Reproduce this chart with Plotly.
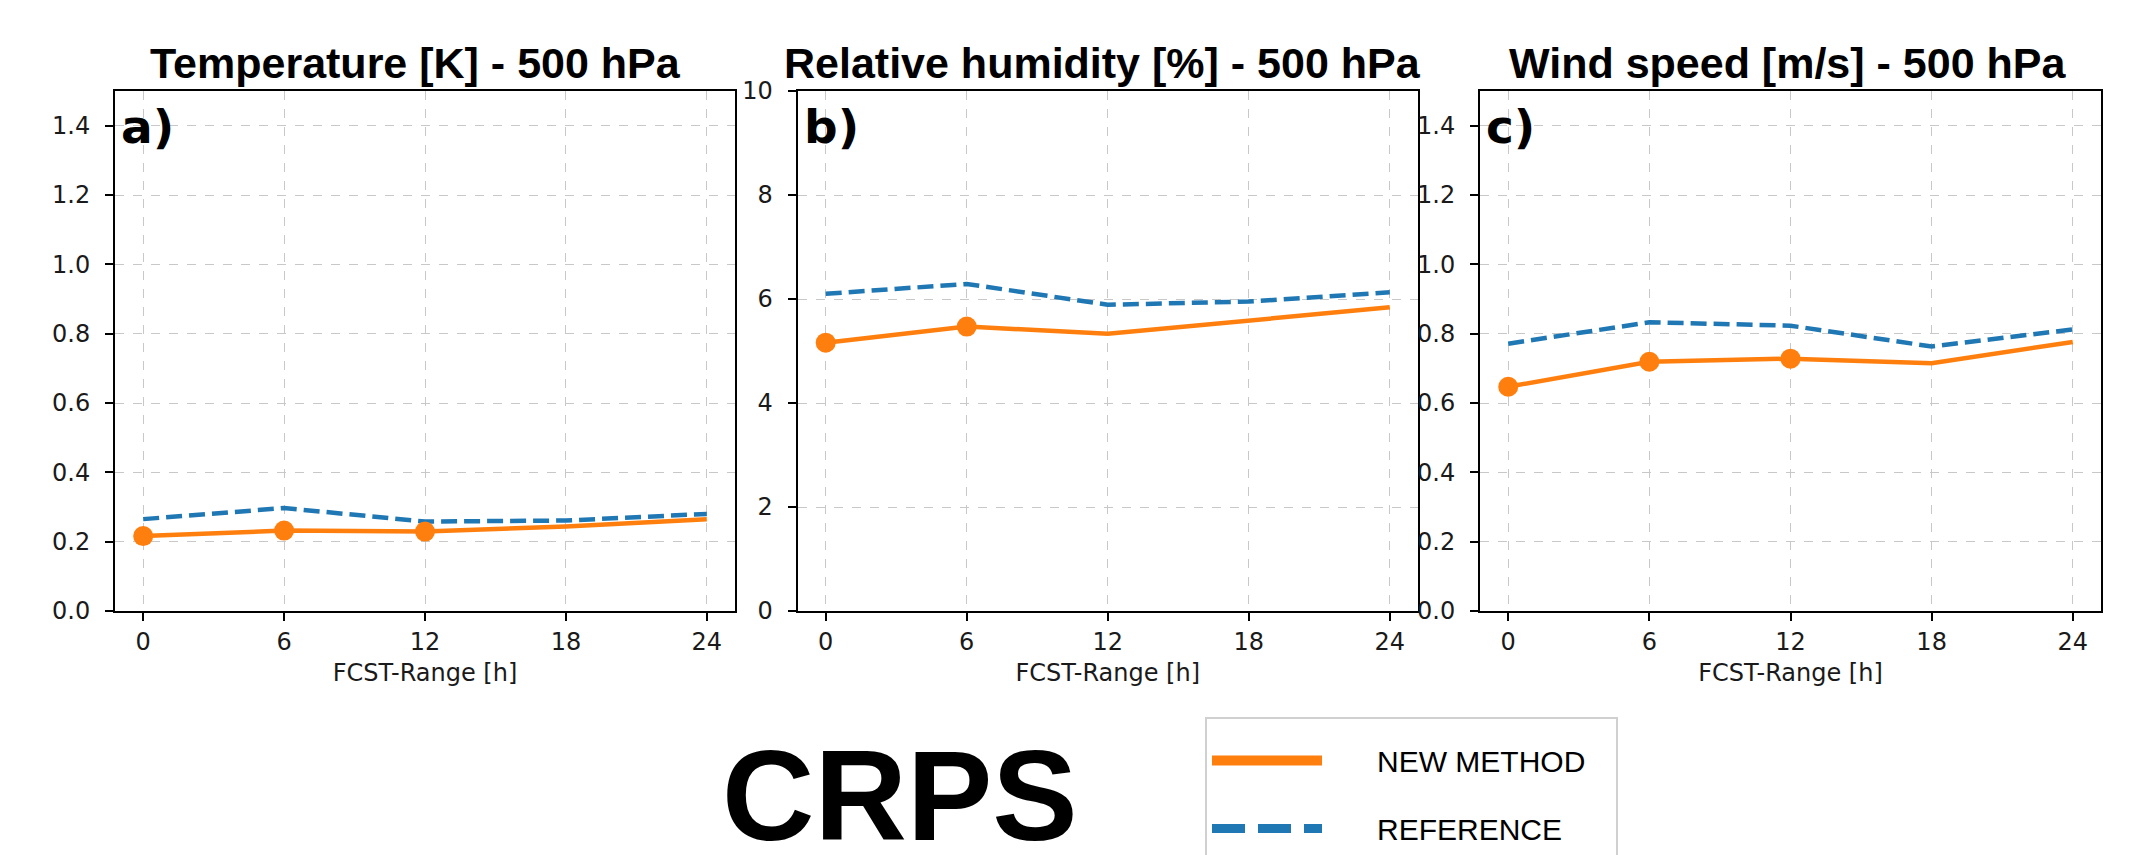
import plotly.graph_objects as go

# ---------------- data ----------------
hours = [0, 6, 12, 18, 24]
x_ticks = [0, 6, 12, 18, 24]

temp_new = [0.216, 0.232, 0.229, 0.244, 0.265]
temp_ref = [0.265, 0.297, 0.258, 0.261, 0.280]
temp_sig = [True, True, True, False, False]

rh_new = [5.16, 5.47, 5.33, 5.59, 5.84]
rh_ref = [6.10, 6.29, 5.89, 5.95, 6.13]
rh_sig = [True, True, False, False, False]

ws_new = [0.647, 0.719, 0.728, 0.715, 0.776]
ws_ref = [0.771, 0.833, 0.823, 0.763, 0.812]
ws_sig = [True, True, True, False, False]

titles = ["Temperature [K] - 500 hPa", "Relative humidity [%] - 500 hPa", "Wind speed [m/s] - 500 hPa"]
panel_labels = ["a)", "b)", "c)"]
y_ranges = [[0, 1.5], [0, 10], [0, 1.5]]
y_tickvals = [[0, 0.2, 0.4, 0.6, 0.8, 1.0, 1.2, 1.4], [0, 2, 4, 6, 8, 10], [0, 0.2, 0.4, 0.6, 0.8, 1.0, 1.2, 1.4]]
y_tickformat = [".1f", "d", ".1f"]
legend_names = ["NEW METHOD", "REFERENCE"]

ORANGE = "#ff7f0e"
BLUE = "#1f77b4"

W, H = 2144, 855
ML, MR, MT, MB = 115, 43, 91, 244
PW = W - ML - MR
PH = H - MT - MB

def px_x(p):
    return (p - ML) / PW

def px_y(p):
    return (H - MB - p) / PH

domains = [[px_x(115), px_x(735)], [px_x(797.5), px_x(1418)], [px_x(1480), px_x(2101)]]
title_shift = [-10, -5, -3]

fig = go.Figure()

series = [(temp_new, temp_ref, temp_sig), (rh_new, rh_ref, rh_sig), (ws_new, ws_ref, ws_sig)]
for i, (new, ref, sig) in enumerate(series):
    xa = "x" if i == 0 else f"x{i+1}"
    ya = "y" if i == 0 else f"y{i+1}"
    fig.add_trace(go.Scatter(x=hours, y=ref, mode="lines", xaxis=xa, yaxis=ya,
                             line=dict(color=BLUE, width=4.5, dash="16px,7px"),
                             showlegend=False, hoverinfo="skip"))
    fig.add_trace(go.Scatter(x=hours, y=new, mode="lines", xaxis=xa, yaxis=ya,
                             line=dict(color=ORANGE, width=4.5),
                             showlegend=False, hoverinfo="skip"))
    fig.add_trace(go.Scatter(x=[h for h, s in zip(hours, sig) if s],
                             y=[v for v, s in zip(new, sig) if s],
                             mode="markers", xaxis=xa, yaxis=ya,
                             marker=dict(color=ORANGE, size=20),
                             showlegend=False, hoverinfo="skip"))

NB = "\u00a0"
# legend-only entries
fig.add_trace(go.Scatter(x=[None], y=[None], mode="lines", name=NB * 6 + legend_names[0] + NB * 3,
                         line=dict(color=ORANGE, width=10), legendgroup="g1"))
fig.add_trace(go.Scatter(x=[None], y=[None], mode="lines", name=NB * 6 + legend_names[1],
                         line=dict(color=BLUE, width=9, dash="33px,13px"), legendgroup="g2"))

tick_font = dict(family="DejaVu Sans", size=24, color="#1a1a1a")
for i in range(3):
    sfx = "" if i == 0 else str(i + 1)
    fig.layout["xaxis" + sfx] = dict(
        domain=domains[i], anchor="y" + sfx, range=[-1.2, 25.2],
        tickvals=x_ticks, ticktext=[str(v) for v in x_ticks],
        showline=True, linecolor="black", linewidth=2, mirror=True,
        ticks="outside", ticklen=8, tickwidth=1.5, tickcolor="black",
        showgrid=True, gridcolor="#c8c8c8", gridwidth=1.2, griddash="dash",
        zeroline=False, tickfont=tick_font,
        title=dict(text="FCST-Range [h]", font=dict(family="DejaVu Sans", size=24, color="#1a1a1a"), standoff=9),
    )
    fig.layout["yaxis" + sfx] = dict(
        domain=[0, 1], anchor="x" + sfx, range=y_ranges[i],
        tickvals=y_tickvals[i], tickformat=y_tickformat[i],
        showline=True, linecolor="black", linewidth=2, mirror=True,
        ticks="outside", ticklen=8, tickwidth=1.5, tickcolor="black",
        ticklabelstandoff=10,
        showgrid=True, gridcolor="#c8c8c8", gridwidth=1.2, griddash="dash",
        zeroline=False, tickfont=tick_font,
    )

annotations = []
for i in range(3):
    cx = (domains[i][0] + domains[i][1]) / 2 + title_shift[i] / PW
    annotations.append(dict(text=titles[i], x=cx, y=px_y(63), xref="paper", yref="paper",
                            xanchor="center", yanchor="middle", showarrow=False,
                            font=dict(family="Liberation Sans", size=43, color="black", weight="bold")))
    annotations.append(dict(text=panel_labels[i], x=domains[i][0] + px_x(ML + 4), y=px_y(127),
                            xref="paper", yref="paper", xanchor="left", yanchor="middle",
                            showarrow=False,
                            font=dict(family="DejaVu Sans", size=47, color="black", weight="bold")))
annotations.append(dict(text="CRPS", x=px_x(900), y=px_y(795), xref="paper", yref="paper",
                        xanchor="center", yanchor="middle", showarrow=False,
                        font=dict(family="Liberation Sans", size=128, color="black", weight="bold")))

fig.update_layout(
    width=W, height=H,
    margin=dict(l=ML, r=MR, t=MT, b=MB, autoexpand=False),
    font=dict(family="DejaVu Sans", color="#1a1a1a"),
    paper_bgcolor="white", plot_bgcolor="white",
    annotations=annotations,
    showlegend=True,
    legend=dict(x=px_x(1205), y=px_y(717), xanchor="left", yanchor="top",
                bordercolor="#d0d0d0", borderwidth=2, bgcolor="white",
                font=dict(family="Liberation Sans", size=30, color="black"),
                title=dict(text=NB, font=dict(size=12)),
                itemwidth=110, tracegroupgap=26, orientation="v"),
)

fig.write_html("out.html", config={"displayModeBar": False},
               post_script="document.body.style.margin='0px';document.body.style.padding='0px';")
